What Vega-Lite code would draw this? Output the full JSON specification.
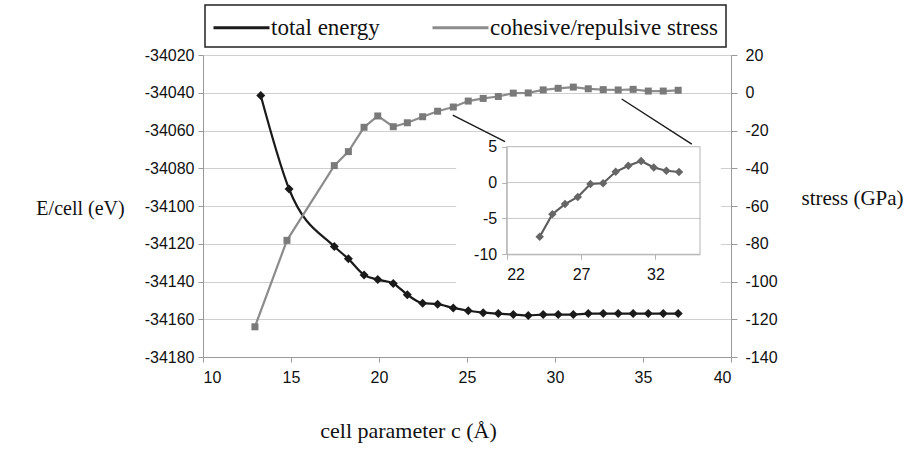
{
  "$schema": "https://vega.github.io/schema/vega-lite/v6.json",
  "width": 528,
  "height": 302,
  "autosize": {"type": "none"},
  "padding": {"left": 203, "top": 55, "right": 188, "bottom": 93},
  "background": "white",
  "config": {
    "view": {"stroke": null},
    "axis": {
      "labelFont": "Liberation Sans",
      "labelFontSize": 16,
      "labelColor": "#111111",
      "titleFont": "Liberation Serif",
      "titleFontWeight": "normal",
      "titleColor": "#111111",
      "domainColor": "#9a9a9a",
      "tickColor": "#9a9a9a",
      "gridColor": "#cfcfcf",
      "grid": false
    },
    "legend": {
      "orient": "none",
      "legendX": 2,
      "legendY": -50,
      "direction": "horizontal",
      "strokeColor": "#222222",
      "strokeWidth": 1.5,
      "padding": 7,
      "symbolType": "M-2,0H2",
      "symbolSize": 784,
      "symbolOffset": 14,
      "symbolStrokeWidth": 3,
      "symbolFillColor": "transparent",
      "labelFont": "Liberation Serif",
      "labelFontSize": 23,
      "labelColor": "#111111",
      "labelLimit": 400,
      "labelOffset": 14,
      "columnPadding": 46
    }
  },
  "datasets": {
    "energy": [
      {"c": 13.28, "E": -34041.5},
      {"c": 14.89, "E": -34091},
      {"c": 17.46, "E": -34121.5},
      {"c": 18.26, "E": -34128},
      {"c": 19.15, "E": -34136.5},
      {"c": 19.93, "E": -34139},
      {"c": 20.81, "E": -34141},
      {"c": 21.61, "E": -34147},
      {"c": 22.48, "E": -34151.5},
      {"c": 23.33, "E": -34152},
      {"c": 24.22, "E": -34154},
      {"c": 25.07, "E": -34155.5},
      {"c": 25.92, "E": -34156.5},
      {"c": 26.78, "E": -34157},
      {"c": 27.63, "E": -34157.5},
      {"c": 28.48, "E": -34158},
      {"c": 29.33, "E": -34157.5},
      {"c": 30.18, "E": -34157.5},
      {"c": 31.04, "E": -34157.5},
      {"c": 31.89, "E": -34157},
      {"c": 32.74, "E": -34157},
      {"c": 33.59, "E": -34157},
      {"c": 34.44, "E": -34157},
      {"c": 35.30, "E": -34157},
      {"c": 36.15, "E": -34157},
      {"c": 37.00, "E": -34157}
    ],
    "stress": [
      {"c": 12.95, "S": -124},
      {"c": 14.77, "S": -78.2},
      {"c": 17.46, "S": -38.6},
      {"c": 18.26, "S": -31.2},
      {"c": 19.15, "S": -18.3},
      {"c": 19.93, "S": -12.3},
      {"c": 20.81, "S": -18.0},
      {"c": 21.61, "S": -15.9},
      {"c": 22.48, "S": -12.7},
      {"c": 23.33, "S": -9.8},
      {"c": 24.22, "S": -7.55},
      {"c": 25.07, "S": -4.4},
      {"c": 25.92, "S": -3.0},
      {"c": 26.78, "S": -2.0},
      {"c": 27.63, "S": -0.2},
      {"c": 28.48, "S": -0.1},
      {"c": 29.33, "S": 1.5},
      {"c": 30.18, "S": 2.35},
      {"c": 31.04, "S": 3.0},
      {"c": 31.89, "S": 2.1},
      {"c": 32.74, "S": 1.65},
      {"c": 33.59, "S": 1.47},
      {"c": 34.44, "S": 1.8},
      {"c": 35.30, "S": 0.9},
      {"c": 36.15, "S": 0.9},
      {"c": 37.00, "S": 1.3}
    ],
    "callouts": [
      {"c": 24.19, "S": -11.8, "c2": 27.16, "S2": -25.9},
      {"c": 33.79, "S": -3.3, "c2": 37.77, "S2": -27.2}
    ],
    "insetgrid": [{"v": 0}, {"v": -5}]
  },
  "layer": [
    {
      "data": {"name": "energy"},
      "mark": {"type": "line", "interpolate": "monotone", "strokeWidth": 2.2},
      "encoding": {
        "x": {
          "field": "c", "type": "quantitative",
          "scale": {"domain": [10, 40], "nice": false, "zero": false},
          "axis": {
            "orient": "bottom", "values": [10, 15, 20, 25, 30, 35, 40],
            "tickSize": 5, "labelPadding": 7,
            "title": "cell parameter c (Å)", "titleFontSize": 22,
            "titleX": 205, "titleY": 73, "titleBaseline": "middle", "titleAlign": "center"
          }
        },
        "y": {
          "field": "E", "type": "quantitative",
          "scale": {"domain": [-34180, -34020], "nice": false, "zero": false},
          "axis": {
            "orient": "left",
            "values": [-34180, -34160, -34140, -34120, -34100, -34080, -34060, -34040, -34020],
            "grid": true, "tickSize": 5, "labelPadding": 4,
            "labelExpr": "'' + datum.value",
            "title": "E/cell (eV)", "titleFontSize": 20, "titleAngle": 0,
            "titleX": -123, "titleY": 153, "titleAlign": "center", "titleBaseline": "middle"
          }
        },
        "color": {
          "datum": "total energy",
          "scale": {"domain": ["total energy", "cohesive/repulsive stress"], "range": ["#1a1a1a", "#8c8c8c"]},
          "legend": {"title": null}
        }
      }
    },
    {
      "data": {"name": "energy"},
      "mark": {"type": "point", "shape": "diamond", "filled": true, "size": 81, "color": "#1a1a1a", "opacity": 1},
      "encoding": {
        "x": {"field": "c", "type": "quantitative", "scale": {"domain": [10, 40], "nice": false, "zero": false}, "axis": null},
        "y": {"field": "E", "type": "quantitative", "scale": {"domain": [-34180, -34020], "nice": false, "zero": false}, "axis": null}
      }
    },
    {
      "data": {"name": "stress"},
      "mark": {"type": "line", "strokeWidth": 2.2},
      "encoding": {
        "x": {"field": "c", "type": "quantitative", "scale": {"domain": [10, 40], "nice": false, "zero": false}, "axis": null},
        "y": {
          "field": "S", "type": "quantitative",
          "scale": {"domain": [-140, 20], "nice": false, "zero": false},
          "axis": {
            "orient": "right",
            "values": [-140, -120, -100, -80, -60, -40, -20, 0, 20],
            "tickSize": 6, "labelPadding": 8,
            "labelExpr": "'' + datum.value",
            "title": "stress (GPa)", "titleFontSize": 21, "titleAngle": 0,
            "titleX": 121, "titleY": 143, "titleAlign": "center", "titleBaseline": "middle"
          }
        },
        "color": {"datum": "cohesive/repulsive stress"}
      }
    },
    {
      "data": {"name": "stress"},
      "mark": {"type": "point", "shape": "square", "filled": true, "size": 49, "color": "#7a7a7a", "opacity": 1},
      "encoding": {
        "x": {"field": "c", "type": "quantitative", "scale": {"domain": [10, 40], "nice": false, "zero": false}, "axis": null},
        "y": {"field": "S", "type": "quantitative", "scale": {"domain": [-140, 20], "nice": false, "zero": false}, "axis": null}
      }
    },
    {
      "data": {"values": [{}]},
      "mark": {"type": "rect", "fill": "white", "stroke": null},
      "encoding": {
        "x": {"datum": 18.6, "type": "quantitative", "scale": {"domain": [22, 35], "range": [303.7, 497], "nice": false, "zero": false}, "axis": null},
        "x2": {"datum": 36.4},
        "y": {"datum": -15.7, "type": "quantitative", "scale": {"domain": [-10, 5], "range": [199.3, 91.7], "nice": false, "zero": false}, "axis": null},
        "y2": {"datum": 6.6}
      }
    },
    {
      "data": {"name": "callouts"},
      "mark": {"type": "rule", "color": "#1a1a1a", "strokeWidth": 1.4},
      "encoding": {
        "x": {"field": "c", "type": "quantitative", "scale": {"domain": [10, 40], "nice": false, "zero": false}, "axis": null},
        "x2": {"field": "c2"},
        "y": {"field": "S", "type": "quantitative", "scale": {"domain": [-140, 20], "nice": false, "zero": false}, "axis": null},
        "y2": {"field": "S2"}
      }
    },
    {
      "data": {"name": "insetgrid"},
      "mark": {"type": "rule", "color": "#c8c8c8", "strokeWidth": 1},
      "encoding": {
        "x": {"datum": 22, "type": "quantitative", "scale": {"domain": [22, 35], "range": [303.7, 497], "nice": false, "zero": false}, "axis": null},
        "x2": {"datum": 35},
        "y": {"field": "v", "type": "quantitative", "scale": {"domain": [-10, 5], "range": [199.3, 91.7], "nice": false, "zero": false}, "axis": null}
      }
    },
    {
      "data": {"values": [{}]},
      "mark": {"type": "rect", "fill": null, "stroke": "#b4b4b4", "strokeWidth": 1},
      "encoding": {
        "x": {
          "datum": 22, "type": "quantitative",
          "scale": {"domain": [22, 35], "range": [303.7, 497], "nice": false, "zero": false},
          "axis": {
            "orient": "bottom", "offset": -102.7, "values": [22, 27, 32],
            "tickSize": 5, "labelPadding": 7, "title": null, "zindex": 1,
            "domainColor": "#b4b4b4", "tickColor": "#b4b4b4"
          }
        },
        "x2": {"datum": 35},
        "y": {
          "datum": -10, "type": "quantitative",
          "scale": {"domain": [-10, 5], "range": [199.3, 91.7], "nice": false, "zero": false},
          "axis": {
            "orient": "left", "offset": -303.7, "values": [-10, -5, 0, 5],
            "tickSize": 5, "labelPadding": 5, "title": null, "zindex": 1,
            "labelExpr": "'' + datum.value",
            "domainColor": "#b4b4b4", "tickColor": "#b4b4b4"
          }
        },
        "y2": {"datum": 5}
      }
    },
    {
      "data": {"name": "stress"},
      "transform": [{"filter": "datum.c >= 24 && datum.c <= 34"}],
      "mark": {"type": "line", "color": "#5e5e5e", "strokeWidth": 2.2},
      "encoding": {
        "x": {"field": "c", "type": "quantitative", "scale": {"domain": [22, 35], "range": [303.7, 497], "nice": false, "zero": false}, "axis": null},
        "y": {"field": "S", "type": "quantitative", "scale": {"domain": [-10, 5], "range": [199.3, 91.7], "nice": false, "zero": false}, "axis": null}
      }
    },
    {
      "data": {"name": "stress"},
      "transform": [{"filter": "datum.c >= 24 && datum.c <= 34"}],
      "mark": {"type": "point", "shape": "diamond", "filled": true, "size": 72, "color": "#666666", "opacity": 1},
      "encoding": {
        "x": {"field": "c", "type": "quantitative", "scale": {"domain": [22, 35], "range": [303.7, 497], "nice": false, "zero": false}, "axis": null},
        "y": {"field": "S", "type": "quantitative", "scale": {"domain": [-10, 5], "range": [199.3, 91.7], "nice": false, "zero": false}, "axis": null}
      }
    }
  ],
  "resolve": {
    "scale": {"x": "independent", "y": "independent"},
    "axis": {"x": "independent", "y": "independent"}
  }
}
